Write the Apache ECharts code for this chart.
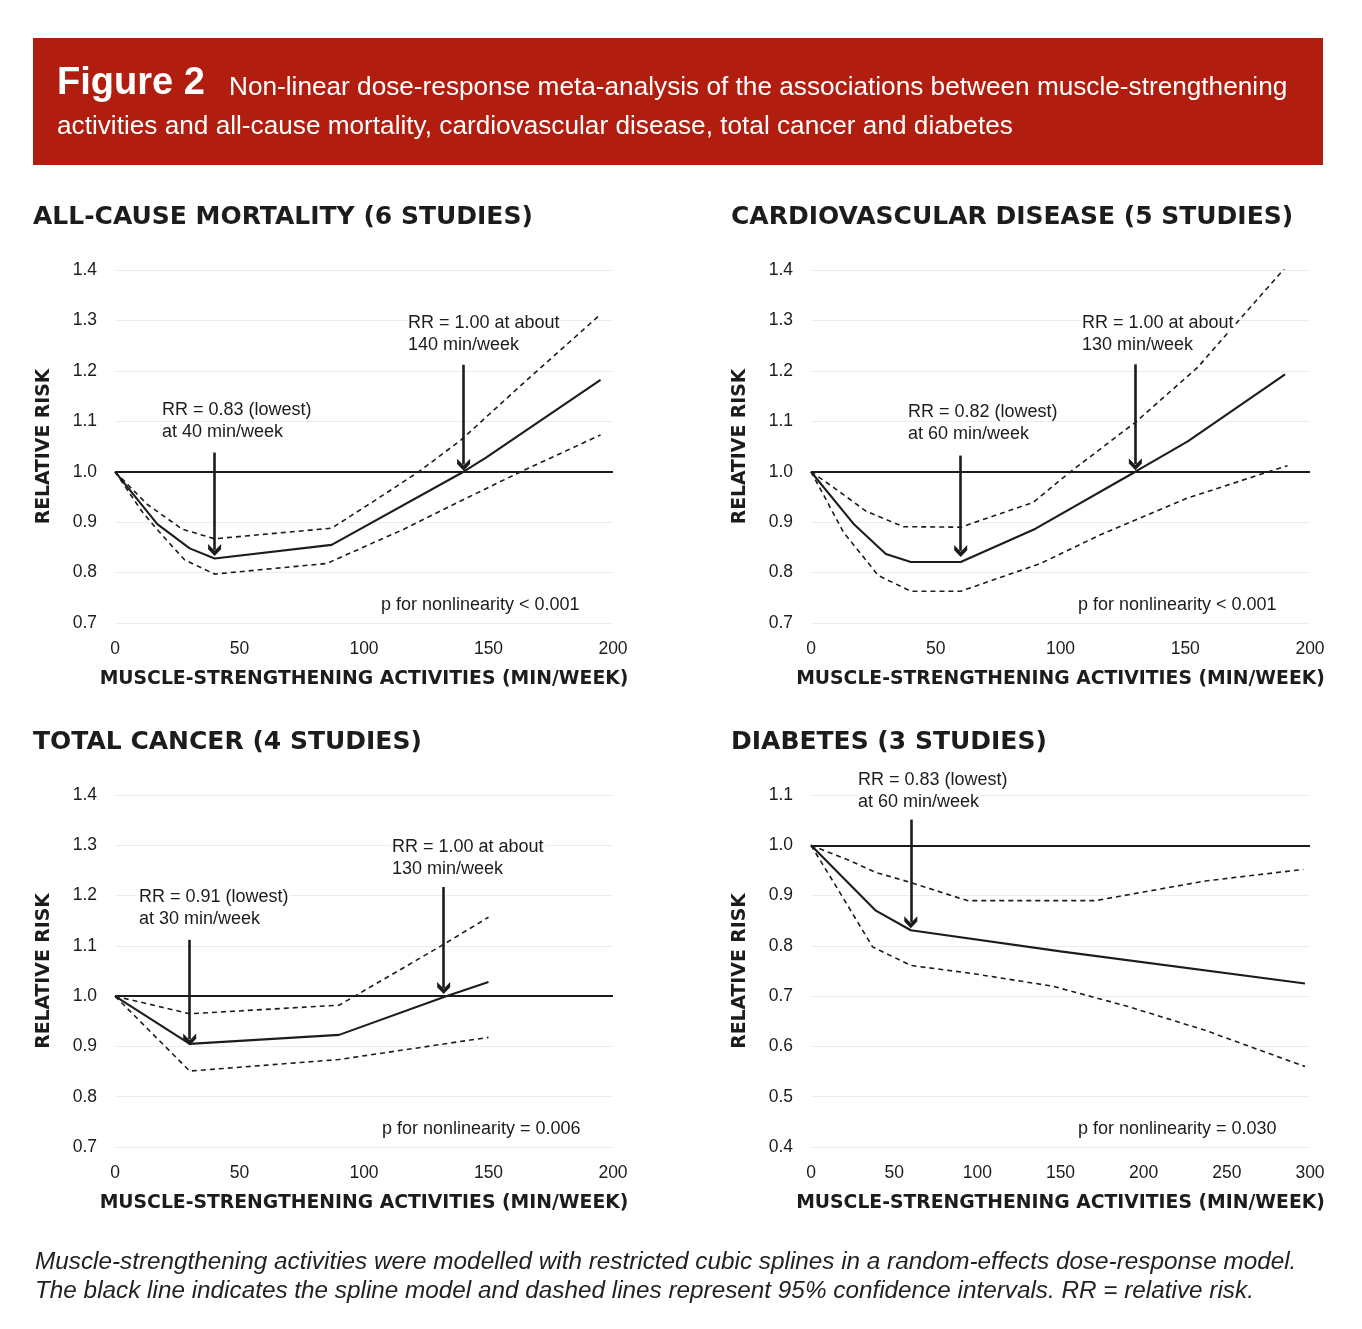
<!DOCTYPE html>
<html>
<head>
<meta charset="utf-8">
<script src="https://cdn.jsdelivr.net/npm/echarts@6/dist/echarts.min.js"></script>
<style>
html,body{margin:0;padding:0;background:#fff;}
#chart{width:1362px;height:1329px;}
</style>
</head>
<body>
<div id="chart"></div>
<script>
// ---------- DATA ----------
const panelTitles = ['ALL-CAUSE MORTALITY (6 STUDIES)', 'CARDIOVASCULAR DISEASE (5 STUDIES)', 'TOTAL CANCER (4 STUDIES)', 'DIABETES (3 STUDIES)'];
const xAxisName = 'MUSCLE-STRENGTHENING ACTIVITIES (MIN/WEEK)';
const yAxisName = 'RELATIVE RISK';
const xTicksMax = [200, 200, 200, 300];
const yMin = [0.7, 0.7, 0.7, 0.4];
const yMax = [1.4, 1.4, 1.4, 1.1];

// All-cause mortality
const mortSolidX = [0, 17, 30, 40, 87, 140, 149, 195];
const mortSolidY = [1.0, 0.896, 0.848, 0.828, 0.855, 1.0, 1.028, 1.182];
const mortUpperX = [0, 13, 27, 40, 87, 105, 122, 139, 165, 195];
const mortUpperY = [1.0, 0.935, 0.886, 0.867, 0.888, 0.945, 1.0, 1.063, 1.18, 1.312];
const mortLowerX = [0, 11, 17, 23, 28, 40, 85, 116, 138, 163, 195];
const mortLowerY = [1.0, 0.92, 0.885, 0.852, 0.825, 0.797, 0.818, 0.886, 0.94, 1.0, 1.073];

// Cardiovascular disease
const cvdSolidX = [0, 17, 30, 40, 60, 90, 130, 151, 190];
const cvdSolidY = [1.0, 0.897, 0.837, 0.821, 0.821, 0.887, 1.0, 1.06, 1.193];
const cvdUpperX = [0, 9, 22, 37, 60, 89, 104, 130, 155, 167, 191];
const cvdUpperY = [1.0, 0.969, 0.922, 0.891, 0.89, 0.939, 1.0, 1.098, 1.207, 1.275, 1.41];
const cvdLowerX = [0, 6, 13, 27, 40, 60, 92, 116, 151, 191];
const cvdLowerY = [1.0, 0.945, 0.88, 0.794, 0.763, 0.763, 0.818, 0.875, 0.948, 1.012];

// Total cancer
const canSolidX = [0, 30, 90, 133, 150];
const canSolidY = [1.0, 0.905, 0.923, 1.0, 1.028];
const canUpperX = [0, 30, 90, 131, 150];
const canUpperY = [1.0, 0.965, 0.982, 1.1, 1.157];
const canLowerX = [0, 30, 90, 150];
const canLowerY = [1.0, 0.851, 0.874, 0.918];

// Diabetes
const diaSolidX = [0, 39, 60, 150, 297];
const diaSolidY = [1.0, 0.87, 0.831, 0.789, 0.725];
const diaUpperX = [0, 23, 39, 60, 94, 171, 237, 296];
const diaUpperY = [1.0, 0.97, 0.946, 0.926, 0.89, 0.89, 0.929, 0.952];
const diaLowerX = [0, 17, 37, 60, 97, 145, 190, 237, 297];
const diaLowerY = [1.0, 0.908, 0.798, 0.761, 0.745, 0.72, 0.68, 0.632, 0.56];

// Reference line and arrows [x, yStart, yEnd]
const refRR = 1.0;
const mortArrows = [[40, 1.038, 0.845], [140, 1.212, 1.014]];
const cvdArrows = [[60, 1.032, 0.843], [130, 1.213, 1.015]];
const canArrows = [[30, 1.112, 0.914], [132, 1.217, 1.016]];
const diaArrows = [[60, 1.051, 0.847]];

// Annotation texts
const annMort = [['RR = 0.83 (lowest)', 'at 40 min/week'], ['RR = 1.00 at about', '140 min/week'], ['p for nonlinearity < 0.001']];
const annCvd = [['RR = 0.82 (lowest)', 'at 60 min/week'], ['RR = 1.00 at about', '130 min/week'], ['p for nonlinearity < 0.001']];
const annCan = [['RR = 0.91 (lowest)', 'at 30 min/week'], ['RR = 1.00 at about', '130 min/week'], ['p for nonlinearity = 0.006']];
const annDia = [['RR = 0.83 (lowest)', 'at 60 min/week'], ['p for nonlinearity = 0.030']];

const headerBold = 'Figure 2';
const headerLine1 = 'Non-linear dose-response meta-analysis of the associations between muscle-strengthening';
const headerLine2 = 'activities and all-cause mortality, cardiovascular disease, total cancer and diabetes';
const captionLine1 = 'Muscle-strengthening activities were modelled with restricted cubic splines in a random-effects dose-response model.';
const captionLine2 = 'The black line indicates the spline model and dashed lines represent 95% confidence intervals. RR = relative risk.';

// ---------- BUILD ----------
const zip = (xs, ys) => xs.map((x, i) => [x, ys[i]]);
const INK = '#1c1c1c';
const SANS = '"Liberation Sans", Arial, sans-serif';
const WIDE = '"DejaVu Sans", sans-serif';
const CHEVRON = 'path://M10,0 L20,9 L20,16 L10,7 L0,16 L0,9 Z';

const grids = [
  {left: 115, top: 270, width: 498, height: 353},
  {left: 811, top: 270, width: 499, height: 353},
  {left: 115, top: 795, width: 498, height: 352},
  {left: 811, top: 795, width: 499, height: 352}
];
const titlePos = [[33, 205], [731, 205], [33, 730], [731, 730]];

const panels = [
  {solid: zip(mortSolidX, mortSolidY), upper: zip(mortUpperX, mortUpperY), lower: zip(mortLowerX, mortLowerY), arrows: mortArrows},
  {solid: zip(cvdSolidX, cvdSolidY), upper: zip(cvdUpperX, cvdUpperY), lower: zip(cvdLowerX, cvdLowerY), arrows: cvdArrows},
  {solid: zip(canSolidX, canSolidY), upper: zip(canUpperX, canUpperY), lower: zip(canLowerX, canLowerY), arrows: canArrows},
  {solid: zip(diaSolidX, diaSolidY), upper: zip(diaUpperX, diaUpperY), lower: zip(diaLowerX, diaLowerY), arrows: diaArrows}
];

const xAxes = [], yAxes = [], series = [], titles = [];
panels.forEach((p, i) => {
  xAxes.push({
    gridIndex: i, type: 'value', min: 0, max: xTicksMax[i], interval: 50,
    axisLine: {show: false}, axisTick: {show: false}, splitLine: {show: false},
    axisLabel: {color: INK, fontFamily: SANS, fontSize: 17.5, margin: 17},
    name: xAxisName, nameLocation: 'middle', nameGap: 47,
    nameTextStyle: {color: INK, fontFamily: WIDE, fontWeight: 'bold', fontSize: 18.8}
  });
  yAxes.push({
    gridIndex: i, type: 'value', min: yMin[i], max: yMax[i], interval: 0.1,
    axisLine: {show: false}, axisTick: {show: false},
    splitLine: {show: true, lineStyle: {color: '#ececec', width: 1}},
    axisLabel: {color: INK, fontFamily: SANS, fontSize: 17.5, margin: 18, formatter: v => v.toFixed(1)},
    name: yAxisName, nameLocation: 'middle', nameGap: 61,
    nameTextStyle: {color: INK, fontFamily: WIDE, fontWeight: 'bold', fontSize: 18.8}
  });
  titles.push({
    text: panelTitles[i], left: titlePos[i][0], top: titlePos[i][1], padding: 0,
    textStyle: {color: INK, fontFamily: WIDE, fontWeight: 'bold', fontSize: 25, lineHeight: 25}
  });
  series.push({
    type: 'line', xAxisIndex: i, yAxisIndex: i, data: p.lower, symbol: 'none', silent: true,
    lineStyle: {color: INK, width: 1.6, type: [5, 4]}
  });
  series.push({
    type: 'line', xAxisIndex: i, yAxisIndex: i, data: p.upper, symbol: 'none', silent: true,
    lineStyle: {color: INK, width: 1.6, type: [5, 4]},
    markLine: {
      silent: true, symbol: ['none', CHEVRON], symbolSize: [13, 12], animation: false,
      label: {show: false},
      lineStyle: {color: INK, width: 2.6, type: 'solid'},
      data: p.arrows.map(a => [{coord: [a[0], a[1]]}, {coord: [a[0], a[2]]}])
    }
  });
  series.push({
    type: 'line', xAxisIndex: i, yAxisIndex: i, data: p.solid, symbol: 'none', silent: true,
    lineStyle: {color: INK, width: 2.1},
    markLine: {
      silent: true, symbol: 'none', animation: false, label: {show: false},
      lineStyle: {color: INK, width: 2.1, type: 'solid'},
      data: [{yAxis: refRR}]
    }
  });
});

// annotation text graphics (pixel positions), white backing like the original
function txt(x, y, s) {
  return {type: 'text', x: x, y: y, z: 50, silent: true,
    style: {text: s, fill: INK, font: '18px ' + SANS, verticalAlign: 'middle', align: 'left',
            backgroundColor: '#fff', padding: [0, 1]}};
}
const g = [];
// header
g.push({type: 'rect', shape: {x: 33, y: 38, width: 1290, height: 127}, style: {fill: '#b11d0e'}, silent: true});
g.push({type: 'text', x: 57, y: 84, silent: true, style: {text: headerBold, fill: '#fff', font: 'bold 38px ' + SANS, verticalAlign: 'middle'}});
g.push({type: 'text', x: 229, y: 88, silent: true, style: {text: headerLine1, fill: '#fff', font: '26.2px ' + SANS, verticalAlign: 'middle'}});
g.push({type: 'text', x: 57, y: 127, silent: true, style: {text: headerLine2, fill: '#fff', font: '26.2px ' + SANS, verticalAlign: 'middle'}});
// panel 1
g.push(txt(161, 410, annMort[0][0])); g.push(txt(161, 432, annMort[0][1]));
g.push(txt(407, 323, annMort[1][0])); g.push(txt(407, 345, annMort[1][1]));
g.push(txt(380, 605, annMort[2][0]));
// panel 2
g.push(txt(907, 412, annCvd[0][0])); g.push(txt(907, 434, annCvd[0][1]));
g.push(txt(1081, 323, annCvd[1][0])); g.push(txt(1081, 345, annCvd[1][1]));
g.push(txt(1077, 605, annCvd[2][0]));
// panel 3
g.push(txt(138, 897, annCan[0][0])); g.push(txt(138, 919, annCan[0][1]));
g.push(txt(391, 847, annCan[1][0])); g.push(txt(391, 869, annCan[1][1]));
g.push(txt(381, 1129, annCan[2][0]));
// panel 4
g.push(txt(857, 780, annDia[0][0])); g.push(txt(857, 802, annDia[0][1]));
g.push(txt(1077, 1129, annDia[1][0]));
// caption
g.push({type: 'text', x: 35, y: 1262, silent: true, style: {text: captionLine1, fill: '#222', font: 'italic 24.3px ' + SANS, verticalAlign: 'middle'}});
g.push({type: 'text', x: 35, y: 1291, silent: true, style: {text: captionLine2, fill: '#222', font: 'italic 24.3px ' + SANS, verticalAlign: 'middle'}});

const chart = echarts.init(document.getElementById('chart'), null, {renderer: 'canvas'});
chart.setOption({
  backgroundColor: '#fff',
  animation: false,
  title: titles,
  grid: grids,
  xAxis: xAxes,
  yAxis: yAxes,
  series: series,
  graphic: g
});
</script>
</body>
</html>
